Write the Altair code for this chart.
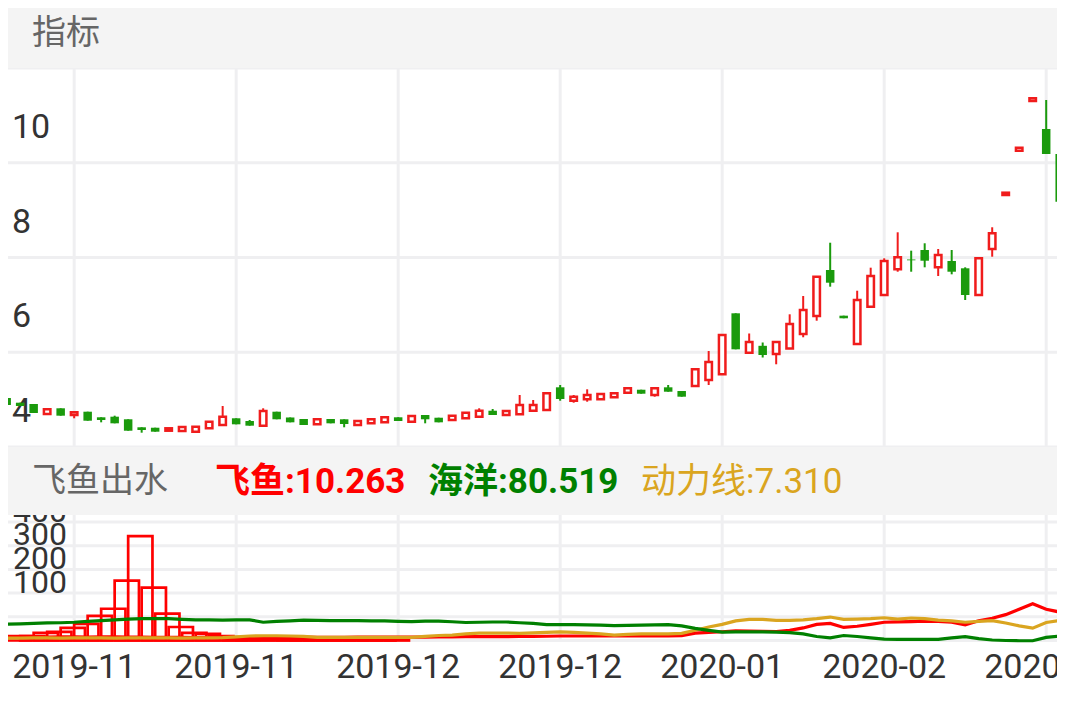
import altair as alt
import pandas as pd

# ---------------- data ----------------
opens = [5.034, 4.935, 4.908, 4.697, 4.817, 4.675, 4.745, 4.627, 4.640, 4.585,
         4.416, 4.407, 4.344, 4.338, 4.323, 4.395, 4.464, 4.606, 4.549, 4.450,
         4.745, 4.623, 4.591, 4.479, 4.591, 4.585, 4.464, 4.500, 4.521, 4.627,
         4.534, 4.675, 4.618, 4.570, 4.606, 4.640, 4.766, 4.675, 4.690, 4.766,
         4.781, 5.260, 4.977, 5.007, 5.007, 5.049, 5.146, 5.209, 5.098, 5.260,
         5.182, 5.288, 5.414, 5.535, 6.822, 5.991, 6.136, 5.963, 6.079, 6.385,
         6.765, 7.736, 6.772, 6.174, 6.961, 7.208, 7.751, 7.958, 8.158, 7.793,
         7.926, 7.772, 7.208, 8.179, 9.319, 10.254, 11.303, 10.712, 10.185]
closes = [4.887, 4.865, 4.718, 4.796, 4.661, 4.732, 4.555, 4.570, 4.500, 4.344,
          4.359, 4.323, 4.395, 4.422, 4.428, 4.534, 4.640, 4.479, 4.450, 4.760,
          4.585, 4.521, 4.464, 4.585, 4.500, 4.485, 4.549, 4.585, 4.627, 4.549,
          4.654, 4.585, 4.521, 4.661, 4.724, 4.766, 4.675, 4.760, 4.887, 4.887,
          5.134, 5.013, 5.062, 5.098, 5.119, 5.134, 5.239, 5.125, 5.239, 5.167,
          5.062, 5.640, 5.794, 6.364, 6.062, 6.216, 5.942, 6.216, 6.596, 6.892,
          7.595, 7.468, 6.717, 7.103, 7.609, 7.926, 8.004, 7.941, 7.932, 8.053,
          7.700, 7.208, 7.983, 8.511, 9.368, 10.318, 11.360, 10.185, 9.178]
highs = [5.034, 4.935, 4.908, 4.796, 4.817, 4.732, 4.745, 4.627, 4.661, 4.585,
         4.416, 4.407, 4.395, 4.443, 4.428, 4.534, 4.865, 4.606, 4.570, 4.817,
         4.745, 4.623, 4.591, 4.585, 4.591, 4.585, 4.549, 4.585, 4.627, 4.627,
         4.654, 4.675, 4.618, 4.661, 4.724, 4.817, 4.802, 4.760, 5.098, 4.992,
         5.134, 5.309, 5.098, 5.218, 5.119, 5.134, 5.239, 5.209, 5.239, 5.309,
         5.182, 5.640, 6.026, 6.364, 6.822, 6.396, 6.206, 6.237, 6.801, 7.187,
         7.595, 8.312, 6.772, 7.299, 7.785, 7.983, 8.532, 8.144, 8.300, 8.179,
         8.158, 7.793, 7.983, 8.638, 9.368, 10.318, 11.360, 11.325, 10.185]
lows = [4.887, 4.865, 4.718, 4.697, 4.661, 4.606, 4.555, 4.521, 4.500, 4.344,
        4.302, 4.323, 4.344, 4.338, 4.323, 4.395, 4.464, 4.479, 4.450, 4.450,
        4.585, 4.521, 4.464, 4.464, 4.500, 4.416, 4.464, 4.500, 4.521, 4.549,
        4.534, 4.500, 4.521, 4.570, 4.606, 4.640, 4.675, 4.675, 4.690, 4.766,
        4.781, 4.977, 4.935, 4.956, 5.007, 5.049, 5.146, 5.125, 5.062, 5.167,
        5.062, 5.288, 5.309, 5.535, 6.062, 5.991, 5.889, 5.746, 6.079, 6.316,
        6.666, 7.384, 6.717, 6.174, 6.961, 7.208, 7.700, 7.700, 7.793, 7.609,
        7.645, 7.103, 7.208, 8.017, 9.319, 10.254, 11.303, 10.185, 9.178]

# 飞鱼出水 indicator panel
fy_bars = [-81, -81, -68, -64, -47, -30, 4, 34, 153, 340,
           123, 13, -43, -68, -72, -81, -93, -93, -93, -93,
           -93, -93, -93, -93, -93, -93, -93, -93, -93]
line_red = [-85, -85, -85, -86, -85, -85, -86, -85, -85, -86,
            -86, -87, -87, -87, -88, -87, -87, -87, -88, -87,
            -87, -87, -86, -87, -87, -87, -86, -86, -86, -86,
            -86, -86, -85, -85, -84, -84, -84, -84, -83, -83,
            -82, -81, -81, -81, -81, -81, -81, -81, -81, -81,
            -80, -69, -66, -63, -59, -60, -61, -62, -57, -47,
            -32, -28, -45, -40, -32, -23, -21, -20, -18, -19,
            -23, -34, -17, -6, 9, 32, 55, 32, 20]
line_green = [-31, -30, -28, -26, -25, -23, -19, -16, -13, -10,
              -8, -8, -8, -11, -13, -13, -14, -13, -13, -23,
              -19, -17, -14, -15, -16, -16, -16, -17, -17, -19,
              -20, -18, -18, -21, -24, -23, -22, -22, -25, -28,
              -33, -33, -33, -34, -35, -37, -36, -35, -34, -33,
              -38, -49, -57, -65, -64, -64, -64, -65, -67, -72,
              -83, -89, -79, -83, -89, -94, -95, -95, -95, -95,
              -89, -84, -92, -98, -100, -101, -101, -87, -81]
line_gold = [-90, -90, -89, -89, -90, -89, -89, -89, -90, -89,
             -89, -89, -89, -90, -89, -89, -88, -85, -81, -80,
             -80, -81, -83, -87, -87, -87, -87, -87, -87, -87,
             -87, -83, -79, -77, -72, -69, -69, -69, -70, -68,
             -66, -64, -66, -69, -72, -77, -74, -72, -72, -72,
             -70, -57, -43, -32, -17, -11, -11, -15, -15, -13,
             -8, -1, -11, -10, -8, -4, -10, -5, -8, -14,
             -17, -23, -19, -16, -26, -38, -48, -24, -16]

tick_idx = [5, 17, 29, 41, 53, 65, 77]
tick_labels = ["2019-11", "2019-11", "2019-12", "2019-12", "2020-01", "2020-02", "2020-02"]
price_grid = [4, 6, 8, 10, 12]
price_ticks = [4, 6, 8, 10]
low_grid = [-100, 0, 100, 200, 300, 400]
low_ticks = [100, 200, 300, 400]
panel_title = "指标"
indicator_title = "飞鱼出水"
indicator_names = ["飞鱼", "海洋", "动力线"]
indicator_values = [10.263, 80.519, 7.310]

# ---------------- styling / layout ----------------
W, H = 1049, 684
RED = "#F01C1C"
GREEN = "#1A9A0C"
GRID = "#EFEFF1"
BAND = "#F4F4F4"
FONT = "Roboto, 'Noto Sans CJK SC'"

xs = alt.Scale(domain=[0.47, 77.43], nice=False, zero=False)


def XQ(field="idx"):
    return alt.X(f"{field}:Q", scale=xs, axis=None)


def YP(field):
    return alt.Y(f"{field}:Q", axis=None,
                 scale=alt.Scale(domain=[4, 12], range=[439, 60], nice=False, zero=False))


def YL(field):
    return alt.Y(f"{field}:Q", axis=None,
                 scale=alt.Scale(domain=[-100, 400], range=[632.5, 514], nice=False, zero=False))


df = pd.DataFrame(dict(idx=list(range(len(opens))), o=opens, c=closes, h=highs, l=lows))
up = df[df.c >= df.o]
dn = df[df.c < df.o]

one = pd.DataFrame({"a": [0]})

layers = []
# vertical grid
layers.append(alt.Chart(pd.DataFrame({"idx": tick_idx})).mark_rule(color=GRID, strokeWidth=3)
              .encode(x=XQ(), y=alt.value(60), y2=alt.value(634)))
# horizontal grids
layers.append(alt.Chart(pd.DataFrame({"v": price_grid})).mark_rule(color=GRID, strokeWidth=3)
              .encode(y=YP("v"), x=alt.value(0), x2=alt.value(W)))
layers.append(alt.Chart(pd.DataFrame({"v": low_grid})).mark_rule(color=GRID, strokeWidth=3)
              .encode(y=YL("v"), x=alt.value(0), x2=alt.value(W)))
# price labels
layers.append(alt.Chart(pd.DataFrame({"v": price_ticks, "t": [str(v) for v in price_ticks]}))
              .mark_text(align="left", baseline="middle", dy=-35, font=FONT, fontSize=34, color="#333333")
              .encode(x=alt.value(4), y=YP("v"), text="t:N"))
# candles
layers.append(alt.Chart(dn).mark_rule(color=GREEN, strokeWidth=2)
              .encode(x=XQ(), y=YP("h"), y2="l:Q"))
layers.append(alt.Chart(up).mark_rule(color=RED, strokeWidth=2)
              .encode(x=XQ(), y=YP("h"), y2="l:Q"))
layers.append(alt.Chart(dn).mark_bar(color=GREEN, size=8.5)
              .encode(x=XQ(), y=YP("o"), y2="c:Q"))
layers.append(alt.Chart(up).mark_bar(fill="white", stroke=RED, strokeWidth=2.5, size=6.5)
              .encode(x=XQ(), y=YP("o"), y2="c:Q"))
# indicator bars
bars_df = pd.DataFrame({"idx": list(range(len(fy_bars))), "v": fy_bars})
layers.append(alt.Chart(bars_df).transform_calculate(idx2="datum.idx + 1.8")
              .mark_rect(filled=False, color="#FF0000", strokeWidth=2.7)
              .encode(x=XQ(), x2="idx2:Q", y=YL("v"), y2=alt.datum(-100)))
# indicator lines
lines_df = pd.DataFrame({"idx": list(range(len(line_red))), "r": line_red, "g": line_green, "y": line_gold})
layers.append(alt.Chart(lines_df).mark_line(color="#FF0000", strokeWidth=3.2).encode(x=XQ(), y=YL("r")))
layers.append(alt.Chart(lines_df).mark_line(color="#DAA520", strokeWidth=3.2).encode(x=XQ(), y=YL("y")))
layers.append(alt.Chart(lines_df).mark_line(color="#008000", strokeWidth=3.2).encode(x=XQ(), y=YL("g")))
# indicator labels
layers.append(alt.Chart(pd.DataFrame({"v": low_ticks, "t": [str(v) for v in low_ticks]}))
              .mark_text(align="left", baseline="middle", dy=-10.5, font=FONT, fontSize=32, color="#333333")
              .encode(x=alt.value(5), y=YL("v"), text="t:N"))
# header bands
layers.append(alt.Chart(one).mark_rect(color=BAND)
              .encode(x=alt.value(0), x2=alt.value(W), y=alt.value(0), y2=alt.value(60)))
layers.append(alt.Chart(one).mark_rect(color=BAND)
              .encode(x=alt.value(0), x2=alt.value(W), y=alt.value(439), y2=alt.value(507)))
# header texts
layers.append(alt.Chart(pd.DataFrame({"t": [panel_title]}))
              .mark_text(align="left", baseline="middle", font=FONT, fontSize=34, color="#666666")
              .encode(x=alt.value(24), y=alt.value(26), text="t:N"))
layers.append(alt.Chart(pd.DataFrame({"t": [indicator_title]}))
              .mark_text(align="left", baseline="middle", font=FONT, fontSize=34, color="#666666")
              .encode(x=alt.value(24), y=alt.value(474), text="t:N"))
ind_colors = ["#FF0000", "#008000", "#DAA520"]
ind_weights = ["bold", "bold", "normal"]
ind_x = [207, 420, 633]
for name, val, col, wt, px in zip(indicator_names, indicator_values, ind_colors, ind_weights, ind_x):
    layers.append(alt.Chart(pd.DataFrame({"t": [f"{name}:{val:.3f}"]}))
                  .mark_text(align="left", baseline="middle", font=FONT, fontSize=35,
                             fontWeight=wt, color=col)
                  .encode(x=alt.value(px), y=alt.value(474), text="t:N"))
# x labels
layers.append(alt.Chart(pd.DataFrame({"idx": tick_idx, "t": tick_labels}))
              .mark_text(align="center", baseline="middle", font=FONT, fontSize=34, color="#333333")
              .encode(x=XQ(), y=alt.value(660), text="t:N"))

chart = (alt.layer(*layers)
         .resolve_scale(y="independent")
         .properties(width=W, height=H, autosize=alt.AutoSizeParams(type="none"),
                     padding=0, background="white")
         .configure_view(stroke="transparent"))

chart.save("out.html", embed_options={"renderer": "svg", "actions": False})
